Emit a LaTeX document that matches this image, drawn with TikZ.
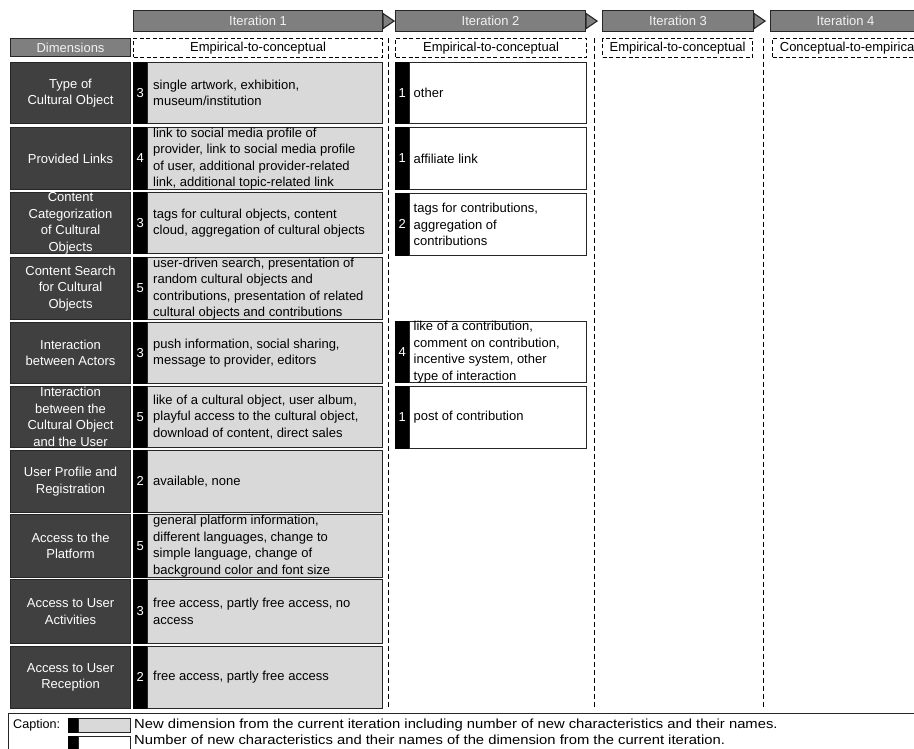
\documentclass[tikz,border=0pt]{standalone}
\usepackage{fontspec}
\setmainfont{Liberation Sans}
\newfontfamily\capfont[FakeStretch=1.12]{Liberation Sans}
\definecolor{hdr}{HTML}{7F7F7F}
\definecolor{hdrtxt}{HTML}{F2F2F2}
\definecolor{dimdark}{HTML}{404040}
\definecolor{cellgray}{HTML}{D9D9D9}
\definecolor{bordc}{HTML}{262626}
\newcommand\mainfs{\fontsize{13}{16.5}\selectfont}
\newcommand\capfs{\capfont\fontsize{13.2}{14}\selectfont}
\newcommand\caplabfs{\fontsize{12.6}{14}\selectfont}
\tikzset{
  bdr/.style={draw=bordc, line width=1.1pt},
  iterbar/.style={bdr, fill=hdr, text=hdrtxt, minimum width=#1, minimum height=21pt, inner sep=0pt, anchor=north west, font=\mainfs},
  phasebox/.style={draw=black, line width=1pt, dash pattern=on 4pt off 2.5pt, fill=white, minimum width=#1, minimum height=19pt, inner sep=0pt, anchor=north west, font=\mainfs},
  dimbox/.style={bdr, fill=dimdark, text=white, minimum width=120pt, minimum height=#1, inner sep=0pt, anchor=north west, align=center, font=\mainfs},
  numbar/.style={fill=black, draw=black, line width=0.6pt, text=white, minimum width=14pt, minimum height=#1, inner sep=0pt, anchor=north west, font=\mainfs},
  graycell/.style={bdr, fill=cellgray, minimum width=235pt, minimum height=#1, inner sep=0pt, anchor=north west},
  whitecell/.style={bdr, fill=white, minimum width=177pt, minimum height=#1, inner sep=0pt, anchor=north west},
  celltext/.style={anchor=west, align=left, inner sep=0pt, font=\mainfs, text=black},
  vline/.style={draw=black, line width=0.7pt, dash pattern=on 5pt off 3pt},
  capbox/.style={draw=bordc, line width=1pt, fill=white, minimum width=930pt, minimum height=60pt, inner sep=0pt, anchor=north west},
  captext/.style={anchor=west, inner sep=0pt, font=\capfs, text=black},
  minibar/.style={fill=black, draw=black, line width=0.5pt, minimum width=10pt, minimum height=14pt, inner sep=0pt, anchor=north west},
  minicell/.style={draw=bordc, line width=1pt, minimum width=52pt, minimum height=14pt, inner sep=0pt, anchor=north west}
}
% #1 name, #2 y top, #3 height, #4 number, #5 text
\newcommand\rowone[5]{%
  \node[numbar=#3] (#1n) at (133,#2) {#4};
  \node[graycell=#3] (#1c) at (147,#2) {};
  \node[celltext] (#1t) at ([xshift=6pt]#1c.west) {#5};}
\newcommand\rowtwo[5]{%
  \node[numbar=#3] (#1n) at (395,#2) {#4};
  \node[whitecell=#3] (#1c) at (409,#2) {};
  \node[celltext] (#1t) at ([xshift=4.5pt]#1c.west) {#5};}
\begin{document}
\begin{tikzpicture}[x=1pt,y=-1pt]
\useasboundingbox (0,0) rectangle (914,749);
\clip (0,0) rectangle (914,749);

% vertical dashed separators
\coordinate (v1t) at (388,38); \coordinate (v1b) at (388,708);
\coordinate (v2t) at (594,38); \coordinate (v2b) at (594,708);
\coordinate (v3t) at (763,38); \coordinate (v3b) at (763,708);
\draw[vline] (v1t) -- (v1b);
\draw[vline] (v2t) -- (v2b);
\draw[vline] (v3t) -- (v3b);

% iteration headers
\node[iterbar=249pt] (it1) at (133,10) {Iteration 1};
\node[iterbar=190pt] (it2) at (395,10) {Iteration 2};
\node[iterbar=151pt] (it3) at (602,10) {Iteration 3};
\node[iterbar=150pt] (it4) at (770,10) {Iteration 4};
\foreach \n in {it1,it2,it3}{
  \draw[bdr, fill=hdr] ([yshift=7.5pt]\n.east) -- ++(11,7.5) -- ([yshift=-7.5pt]\n.east) -- cycle;
}

% phase boxes
\node[bdr, fill=hdr, text=hdrtxt, minimum width=120pt, minimum height=18pt, inner sep=0pt, anchor=north west, font=\mainfs] (dimh) at (10,38) {Dimensions};
\node[phasebox=249pt] (p1) at (133,38) {Empirical-to-conceptual};
\node[phasebox=191pt] (p2) at (395,38) {Empirical-to-conceptual};
\node[phasebox=150pt] (p3) at (602,38) {Empirical-to-conceptual};
\node[phasebox=152pt] (p4) at (772,38) {Conceptual-to-empirical};

% dimensions
\node[dimbox=61pt] (d1) at (10,62) {Type of\\Cultural Object};
\node[dimbox=62pt] (d2) at (10,127) {Provided Links};
\node[dimbox=61pt] (d3) at (10,192) {Content\\Categorization\\of Cultural\\Objects};
\node[dimbox=62pt] (d4) at (10,257) {Content Search\\for Cultural\\Objects};
\node[dimbox=61pt] (d5) at (10,322) {Interaction\\between Actors};
\node[dimbox=61pt] (d6) at (10,386) {Interaction\\between the\\Cultural Object\\and the User};
\node[dimbox=62pt] (d7) at (10,450) {User Profile and\\Registration};
\node[dimbox=63pt] (d8) at (10,514) {Access to the\\Platform};
\node[dimbox=64pt] (d9) at (10,579) {Access to User\\Activities};
\node[dimbox=62pt] (d10) at (10,646) {Access to User\\Reception};

% iteration 1 cells
\rowone{a1}{62}{61pt}{3}{single artwork, exhibition,\\museum/institution}
\rowone{a2}{127}{62pt}{4}{link to social media profile of\\provider, link to social media profile\\of user, additional provider-related\\link, additional topic-related link}
\rowone{a3}{192}{61pt}{3}{tags for cultural objects, content\\cloud, aggregation of cultural objects}
\rowone{a4}{257}{62pt}{5}{user-driven search, presentation of\\random cultural objects and\\contributions, presentation of related\\cultural objects and contributions}
\rowone{a5}{322}{61pt}{3}{push information, social sharing,\\message to provider, editors}
\rowone{a6}{386}{61pt}{5}{like of a cultural object, user album,\\playful access to the cultural object,\\download of content, direct sales}
\rowone{a7}{450}{62pt}{2}{available, none}
\rowone{a8}{514}{63pt}{5}{general platform information,\\different languages, change to\\simple language, change of\\background color and font size}
\rowone{a9}{579}{64pt}{3}{free access, partly free access, no\\access}
\rowone{a10}{646}{62pt}{2}{free access, partly free access}

% iteration 2 cells
\rowtwo{b1}{62}{61pt}{1}{other}
\rowtwo{b2}{127}{62pt}{1}{affiliate link}
\rowtwo{b3}{193}{62pt}{2}{tags for contributions,\\aggregation of\\contributions}
\rowtwo{b5}{321}{61pt}{4}{like of a contribution,\\comment on contribution,\\incentive system, other\\type of interaction}
\rowtwo{b6}{386}{62pt}{1}{post of contribution}

% caption
\node[capbox] (cap) at (8,713) {};
\node[anchor=west, inner sep=0pt, font=\caplabfs] (capl) at (13,725) {Caption:};
\node[minibar] (m1b) at (68,718) {};
\node[minicell, fill=cellgray] (m1c) at (78,718) {};
\node[minibar] (m2b) at (68,736) {};
\node[minicell, fill=white] (m2c) at (78,736) {};
\node[captext] (cap1) at (134,725) {New dimension from the current iteration including number of new characteristics and their names.};
\node[captext] (cap2) at (134,740) {Number of new characteristics and their names of the dimension from the current iteration.};
\end{tikzpicture}
\end{document}
